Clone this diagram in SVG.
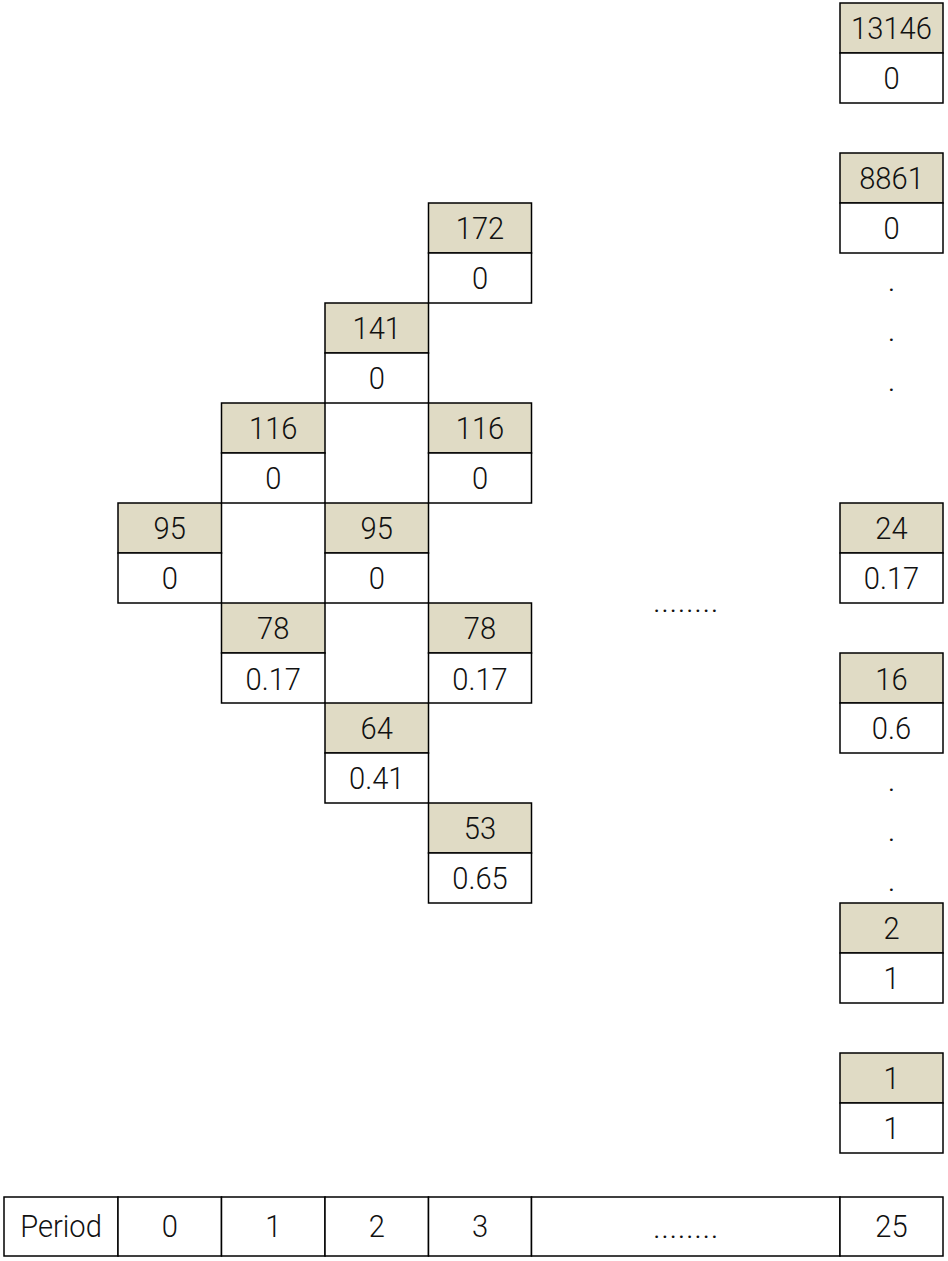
<svg xmlns="http://www.w3.org/2000/svg" width="948" height="1261" viewBox="0 0 948 1261">
<style>
rect{stroke:#000;stroke-width:1.5}
.h{fill:#e0dbc5}
.v{fill:#fff}
text{font-family:Roboto,"Liberation Sans",sans-serif;font-weight:300;font-size:32px;fill:#111;text-anchor:middle}
.t{transform-box:fill-box;transform-origin:center;transform:scaleX(0.91)}
.d{letter-spacing:0.6px}
</style>
<g id="n-c0-95"><rect class="h" x="118" y="503" width="103.5" height="50"/><rect class="v" x="118" y="553" width="103.5" height="50"/><text class="t" x="169.75" y="539.5">95</text><text class="t" x="169.75" y="589.5">0</text></g>
<g id="n-c1-116"><rect class="h" x="221.5" y="403" width="103.5" height="50"/><rect class="v" x="221.5" y="453" width="103.5" height="50"/><text class="t" x="273.25" y="439.5">116</text><text class="t" x="273.25" y="489.5">0</text></g>
<g id="n-c1-78"><rect class="h" x="221.5" y="603" width="103.5" height="50"/><rect class="v" x="221.5" y="653" width="103.5" height="50"/><text class="t" x="273.25" y="639.5">78</text><text class="t" x="273.25" y="689.5">0.17</text></g>
<g id="n-c2-141"><rect class="h" x="325" y="303" width="103.5" height="50"/><rect class="v" x="325" y="353" width="103.5" height="50"/><text class="t" x="376.75" y="339.5">141</text><text class="t" x="376.75" y="389.5">0</text></g>
<g id="n-c2-95"><rect class="h" x="325" y="503" width="103.5" height="50"/><rect class="v" x="325" y="553" width="103.5" height="50"/><text class="t" x="376.75" y="539.5">95</text><text class="t" x="376.75" y="589.5">0</text></g>
<g id="n-c2-64"><rect class="h" x="325" y="703" width="103.5" height="50"/><rect class="v" x="325" y="753" width="103.5" height="50"/><text class="t" x="376.75" y="739.5">64</text><text class="t" x="376.75" y="789.5">0.41</text></g>
<g id="n-c3-172"><rect class="h" x="428.5" y="203" width="103" height="50"/><rect class="v" x="428.5" y="253" width="103" height="50"/><text class="t" x="480" y="239.5">172</text><text class="t" x="480" y="289.5">0</text></g>
<g id="n-c3-116"><rect class="h" x="428.5" y="403" width="103" height="50"/><rect class="v" x="428.5" y="453" width="103" height="50"/><text class="t" x="480" y="439.5">116</text><text class="t" x="480" y="489.5">0</text></g>
<g id="n-c3-78"><rect class="h" x="428.5" y="603" width="103" height="50"/><rect class="v" x="428.5" y="653" width="103" height="50"/><text class="t" x="480" y="639.5">78</text><text class="t" x="480" y="689.5">0.17</text></g>
<g id="n-c3-53"><rect class="h" x="428.5" y="803" width="103" height="50"/><rect class="v" x="428.5" y="853" width="103" height="50"/><text class="t" x="480" y="839.5">53</text><text class="t" x="480" y="889.5">0.65</text></g>
<g id="n-r-13146"><rect class="h" x="840" y="3" width="103" height="50"/><rect class="v" x="840" y="53" width="103" height="50"/><text class="t" x="891.5" y="39.5">13146</text><text class="t" x="891.5" y="89.5">0</text></g>
<g id="n-r-8861"><rect class="h" x="840" y="153" width="103" height="50"/><rect class="v" x="840" y="203" width="103" height="50"/><text class="t" x="891.5" y="189.5">8861</text><text class="t" x="891.5" y="239.5">0</text></g>
<g id="n-r-24"><rect class="h" x="840" y="503" width="103" height="50"/><rect class="v" x="840" y="553" width="103" height="50"/><text class="t" x="891.5" y="539.5">24</text><text class="t" x="891.5" y="589.5">0.17</text></g>
<g id="n-r-16"><rect class="h" x="840" y="653" width="103" height="50"/><rect class="v" x="840" y="703" width="103" height="50"/><text class="t" x="891.5" y="689.5">16</text><text class="t" x="891.5" y="739.5">0.6</text></g>
<g id="n-r-2"><rect class="h" x="840" y="903" width="103" height="50"/><rect class="v" x="840" y="953" width="103" height="50"/><text class="t" x="891.5" y="939.5">2</text><text class="t" x="891.5" y="989.5">1</text></g>
<g id="n-r-1"><rect class="h" x="840" y="1053" width="103" height="50"/><rect class="v" x="840" y="1103" width="103" height="50"/><text class="t" x="891.5" y="1089.5">1</text><text class="t" x="891.5" y="1139.5">1</text></g>
<g id="ellipses">
<text x="891.5" y="290.5">.</text><text x="891.5" y="340.5">.</text><text x="891.5" y="390.5">.</text>
<text x="891.5" y="790.5">.</text><text x="891.5" y="840.5">.</text><text x="891.5" y="890.5">.</text>
<text class="d" x="686" y="612">........</text>
</g>
<g id="period-table">
<rect class="v" x="4" y="1197" width="114" height="59"/>
<rect class="v" x="118" y="1197" width="103.5" height="59"/>
<rect class="v" x="221.5" y="1197" width="103.5" height="59"/>
<rect class="v" x="325" y="1197" width="103.5" height="59"/>
<rect class="v" x="428.5" y="1197" width="103" height="59"/>
<rect class="v" x="531.5" y="1197" width="308.5" height="59"/>
<rect class="v" x="840" y="1197" width="103" height="59"/>
<text class="t" x="61" y="1237">Period</text>
<text class="t" x="169.75" y="1237">0</text>
<text class="t" x="273.25" y="1237">1</text>
<text class="t" x="376.75" y="1237">2</text>
<text class="t" x="480" y="1237">3</text>
<text class="d" x="686" y="1238">........</text>
<text class="t" x="891.5" y="1237">25</text>
</g>
<g id="connectors"></g>
</svg>
